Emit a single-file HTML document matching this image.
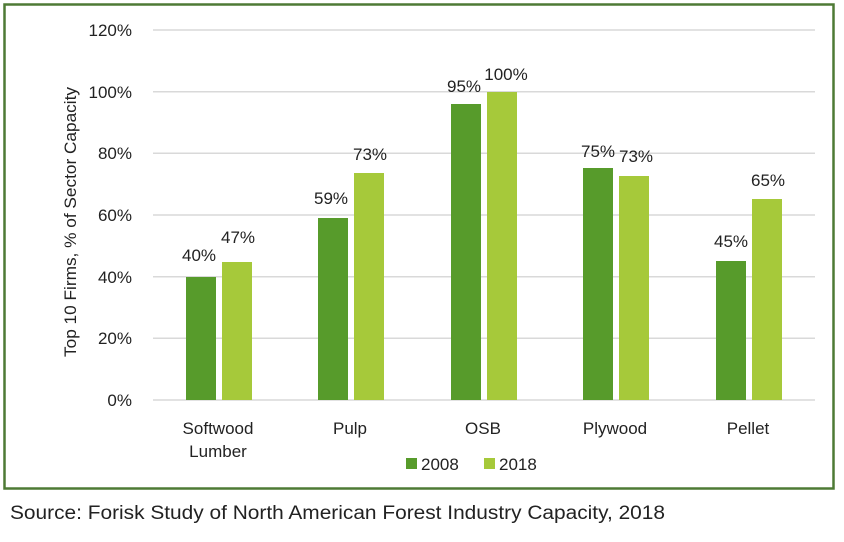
<!DOCTYPE html>
<html><head><style>
html,body{margin:0;padding:0;background:#fff;}
body{width:844px;height:537px;overflow:hidden;position:relative;font-family:"Liberation Sans",sans-serif;}
</style></head><body>
<svg width="844" height="537" xmlns="http://www.w3.org/2000/svg" font-family="Liberation Sans, sans-serif">
<rect x="4.5" y="4.5" width="829" height="484" fill="none" stroke="#4e7a35" stroke-width="2.5"/>
<g stroke="#d9d9d9" stroke-width="1.5">
<line x1="153" x2="815" y1="30" y2="30"/>
<line x1="153" x2="815" y1="91.7" y2="91.7"/>
<line x1="153" x2="815" y1="153.3" y2="153.3"/>
<line x1="153" x2="815" y1="215" y2="215"/>
<line x1="153" x2="815" y1="276.7" y2="276.7"/>
<line x1="153" x2="815" y1="338.3" y2="338.3"/>
<line x1="153" x2="815" y1="400" y2="400"/>
</g>
<g font-size="17" fill="#222" text-anchor="end">
<text x="132" y="36">120%</text>
<text x="132" y="98">100%</text>
<text x="132" y="159">80%</text>
<text x="132" y="221">60%</text>
<text x="132" y="283">40%</text>
<text x="132" y="344">20%</text>
<text x="132" y="406">0%</text>
</g>
<text transform="translate(76,222) rotate(-90)" font-size="17" fill="#222" text-anchor="middle" textLength="270" lengthAdjust="spacingAndGlyphs">Top 10 Firms, % of Sector Capacity</text>
<g fill="#579b2b">
<rect x="186" y="277" width="30" height="123"/>
<rect x="318" y="218" width="30" height="182"/>
<rect x="451" y="104" width="30" height="296"/>
<rect x="583" y="168" width="30" height="232"/>
<rect x="716" y="261" width="30" height="139"/>
</g>
<g fill="#a6c93a">
<rect x="222" y="262" width="30" height="138"/>
<rect x="354" y="173" width="30" height="227"/>
<rect x="487" y="92" width="30" height="308"/>
<rect x="619" y="176" width="30" height="224"/>
<rect x="752" y="199" width="30" height="201"/>
</g>
<g font-size="17" fill="#222" text-anchor="middle">
<text x="199" y="261">40%</text><text x="238" y="243">47%</text>
<text x="331" y="204">59%</text><text x="370" y="160">73%</text>
<text x="464" y="92">95%</text><text x="506" y="80">100%</text>
<text x="598" y="157">75%</text><text x="636" y="162">73%</text>
<text x="731" y="247">45%</text><text x="768" y="186">65%</text>
<text x="218" y="434">Softwood</text><text x="218" y="457">Lumber</text>
<text x="350" y="434">Pulp</text>
<text x="483" y="434">OSB</text>
<text x="615" y="434">Plywood</text>
<text x="748" y="434">Pellet</text>
</g>
<rect x="406" y="458" width="11" height="11" fill="#579b2b"/>
<text x="421" y="470" font-size="17" fill="#222">2008</text>
<rect x="484" y="458" width="11" height="11" fill="#a6c93a"/>
<text x="499" y="470" font-size="17" fill="#222">2018</text>
<text x="10" y="519" font-size="19" fill="#222" textLength="655" lengthAdjust="spacingAndGlyphs">Source: Forisk Study of North American Forest Industry Capacity, 2018</text>
</svg>
</body></html>
